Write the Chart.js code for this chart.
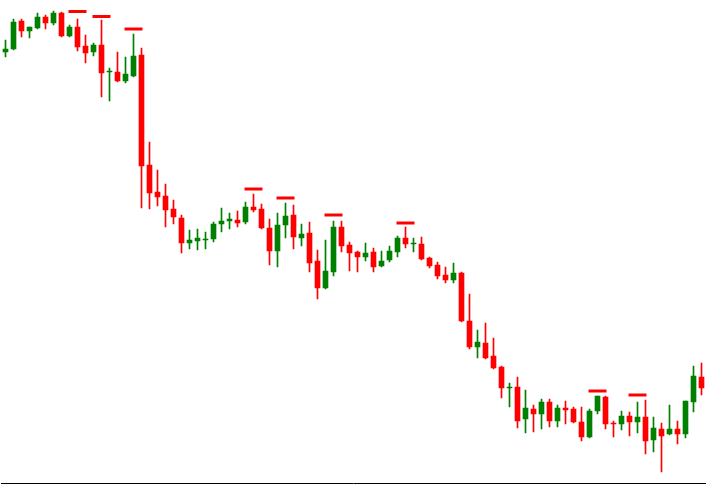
<!DOCTYPE html>
<html>
<head>
<meta charset="utf-8">
<script src="https://cdn.jsdelivr.net/npm/chart.js@4"></script>
<style>
  html, body { margin: 0; padding: 0; background: #fff; }
  canvas { display: block; }
</style>
</head>
<body>
<canvas id="candles" width="706" height="485"></canvas>
<script>
// OHLC values (one entry per candle)
const open = [448, 451, 479, 469, 472, 483, 477, 487, 464, 473, 454, 448, 455, 428, 428, 419, 424, 445, 335, 308,
  304, 291, 282, 257, 259, 260, 261, 276, 279, 280, 278, 293, 291, 272, 249, 275, 285, 262, 267, 239,
  212, 228, 273, 255, 248, 243, 248, 234, 240, 248, 262, 256, 256, 242, 235, 225, 220, 227, 179, 153,
  157, 144, 133, 112, 113, 81, 91, 86, 98, 79, 92, 91, 78, 63, 89, 103, 77, 76, 84, 78,
  83, 60, 71, 66, 71, 66, 98, 123];
const high = [460, 481, 481, 473, 487, 485, 489, 488, 475, 481, 465, 457, 480, 432, 448, 443, 466, 452, 358, 330,
  316, 300, 285, 270, 271, 268, 278, 292, 287, 289, 298, 306, 296, 281, 287, 297, 295, 276, 278, 250,
  260, 279, 279, 258, 249, 257, 252, 249, 254, 264, 273, 262, 263, 243, 238, 233, 237, 228, 206, 170,
  177, 162, 134, 117, 123, 110, 95, 101, 101, 95, 99, 93, 93, 91, 104, 104, 79, 89, 88, 98,
  100, 83, 77, 95, 79, 99, 134, 137];
const low = [443, 450, 463, 462, 471, 471, 475, 463, 463, 449, 437, 444, 403, 399, 418, 417, 423, 292, 291, 294,
  273, 276, 247, 251, 250, 251, 258, 268, 271, 273, 276, 288, 271, 235, 233, 262, 251, 254, 228, 201,
  211, 224, 248, 229, 228, 239, 228, 233, 238, 243, 252, 248, 240, 232, 221, 217, 217, 178, 151, 142,
  141, 131, 102, 93, 72, 67, 68, 71, 73, 73, 76, 77, 59, 62, 86, 71, 63, 70, 64, 67,
  46, 48, 28, 65, 56, 62, 88, 105];
const close = [451, 478, 469, 473, 483, 477, 487, 464, 473, 453, 447, 455, 427, 429, 419, 426, 444, 334, 307, 303,
  290, 283, 257, 260, 262, 261, 276, 279, 281, 277, 293, 290, 272, 249, 275, 284, 263, 266, 237, 212,
  229, 273, 254, 247, 243, 247, 233, 239, 249, 262, 256, 257, 241, 234, 224, 220, 227, 179, 153, 158,
  142, 132, 112, 113, 79, 92, 86, 98, 79, 92, 90, 78, 63, 89, 104, 76, 76, 84, 78, 83,
  59, 72, 64, 71, 66, 99, 124, 112];

// red resistance dashes above some candles (candle index -> level)
const markIndex = [9, 12, 16, 31, 35, 41, 50, 74, 79];
const markLevel = [488.5, 483.5, 471, 311, 302, 285, 277, 109, 105];

const categories = open.map((_, i) => String(i + 1));

const UP = '#008000';
const DOWN = '#ff0000';

const colors = open.map((o, i) => close[i] >= o ? UP : DOWN);
const bodies = open.map((o, i) => [o, close[i]]);
const wicks = low.map((l, i) => [l, high[i]]);
const marks = categories.map(() => null);
markIndex.forEach((idx, k) => { marks[idx] = markLevel[k]; });

const ctx = document.getElementById('candles').getContext('2d');
new Chart(ctx, {
  type: 'bar',
  data: {
    labels: categories,
    datasets: [{
      type: 'line',
      data: marks,
      showLine: false,
      pointStyle: 'line',
      pointRadius: 9,
      pointBorderWidth: 3,
      pointBorderColor: DOWN,
      pointBackgroundColor: DOWN,
      clip: false,
      order: 0
    }, {
      data: bodies,
      backgroundColor: colors,
      barThickness: 5,
      grouped: false,
      order: 1
    }, {
      data: wicks,
      backgroundColor: colors,
      barThickness: 1,
      grouped: false,
      order: 2
    }]
  },
  options: {
    responsive: false,
    animation: false,
    layout: { autoPadding: false, padding: { left: 1.5, right: 0.5, top: 0, bottom: 1.5 } },
    plugins: { legend: { display: false }, tooltip: { enabled: false } },
    scales: {
      x: {
        offset: true,
        grid: { display: false },
        ticks: { display: false },
        border: { display: true, color: '#000', width: 1 },
        afterFit: (scale) => { scale.height = 0; }
      },
      y: { display: false, min: 16.5, max: 500 }
    }
  }
});
</script>
</body>
</html>
